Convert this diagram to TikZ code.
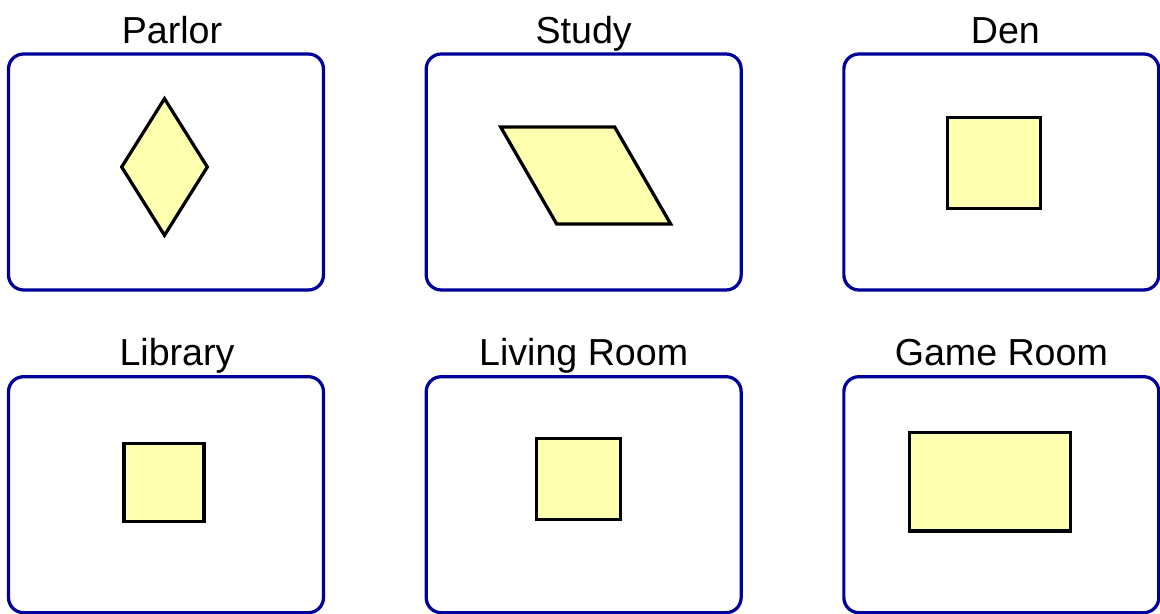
\documentclass[tikz,border=0pt]{standalone}
\usepackage{fontspec}
\setmainfont{Liberation Sans}
\usepackage{tikz}
\usetikzlibrary{positioning,shapes.geometric,calc}
\definecolor{marine}{HTML}{00009A}
\definecolor{jaunepale}{HTML}{FFFFB0}
\tikzset{
  room/.style={draw=marine,line width=0.065cm,rounded corners=0.3cm,fill=white,
               minimum width=6.3cm,minimum height=4.72cm,inner sep=0pt},
  roomlabel/.style={font=\fontsize{21.4}{24}\selectfont,inner sep=0pt,text depth=0pt},
  tile/.style={draw=black,fill=jaunepale,line width=0.065cm,inner sep=0pt},
}

\begin{document}
\begin{tikzpicture}[x=0.02cm,y=0.02cm,node distance=1.67cm and 1.99cm,label distance=0.18cm]
  \useasboundingbox (0,0) rectangle (1160,614);
  % rooms
  \node[room,label={[roomlabel,xshift=0.12cm]above:Parlor}] (parlor) at (166,442) {};
  \node[room,right=of parlor,label={[roomlabel]above:Study}] (study) {};
  \node[room,right=of study,label={[roomlabel,xshift=0.08cm]above:Den}] (den) {};
  \node[room,below=of parlor,label={[roomlabel,xshift=0.22cm]above:Library}] (library) {};
  \node[room,right=of library,label={[roomlabel]above:Living Room}] (living) {};
  \node[room,right=of living,label={[roomlabel]above:Game Room}] (game) {};
  % shapes inside
  \node[tile,diamond,minimum width=1.74cm,minimum height=2.76cm] (parlorfig) at ($(parlor)+(-1.5,5)$) {};
  \draw[tile] ($(study)+(-83,45)$) -- ++(114,0) -- ($(study)+(87,-52)$) -- ++(-114,0) -- cycle;
  \foreach \r/\w/\h/\dx/\dy in {den/1.86/1.81/-7.5/9,library/1.60/1.56/-2/12.5,
                                 living/1.68/1.62/-5/16,game/3.22/1.97/-11.5/13}
    \node[tile,minimum width=\w cm,minimum height=\h cm] (\r fig) at ($(\r)+(\dx,\dy)$) {};
\end{tikzpicture}
\end{document}
